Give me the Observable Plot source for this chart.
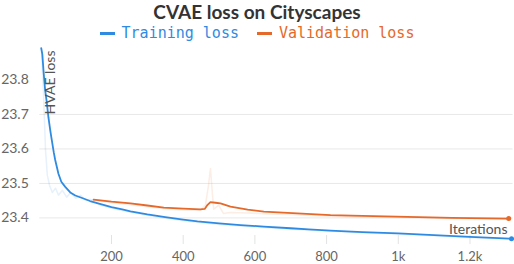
<!DOCTYPE html>
<html>
<head>
<meta charset="utf-8">
<script src="https://cdn.jsdelivr.net/npm/d3@7"></script>
<script src="https://cdn.jsdelivr.net/npm/@observablehq/plot@0.6"></script>
<style>
  html, body { margin: 0; padding: 0; background: #fff; }
  #wrap { width: 514px; height: 264px; overflow: hidden; }
  #title { height: 22px; line-height: 20px; text-align: center; font: bold 19px Lato, sans-serif; color: #333; }
  #legend { height: 22px; line-height: 22px; display: flex; justify-content: center; align-items: center;
            font: 15px "DejaVu Sans Mono", monospace; }
  .sw { display: inline-block; width: 15px; height: 3px; margin-right: 7px; }
  .item { display: flex; align-items: center; }
  svg { display: block; }
</style>
</head>
<body>
<div id="wrap">
  <div id="title"></div>
  <div id="legend"></div>
  <div id="chart"></div>
</div>
<script>
const titleText = "CVAE loss on Cityscapes";
const seriesNames = ["Training loss", "Validation loss"];
const seriesColors = ["#2f8be2", "#e5692a"];
const yLabel = "HVAE loss";
const xLabel = "Iterations";

// Training loss (smoothed)
const trainIter = [4, 7, 11, 15, 19.5, 24, 29, 32, 39, 43, 52, 60, 71, 85, 99, 120, 140, 170, 200, 230, 253, 300, 350, 400, 440, 500, 560, 625, 700, 750, 811, 900, 1000, 1100, 1200, 1316];
const trainLoss = [23.892, 23.875, 23.818, 23.77, 23.735, 23.692, 23.655, 23.635, 23.59, 23.568, 23.528, 23.505, 23.49, 23.474, 23.465, 23.457, 23.449, 23.44, 23.431, 23.425, 23.419, 23.41, 23.402, 23.395, 23.39, 23.384, 23.379, 23.375, 23.37, 23.367, 23.363, 23.359, 23.355, 23.35, 23.345, 23.3395];
// Training loss (raw, faint)
const trainRawIter = [5, 10, 16, 21, 27, 35, 44, 52, 63, 75, 86, 100, 114, 127, 141, 169, 225, 309, 400, 500, 600, 700, 800, 900, 1000, 1100, 1200, 1316];
const trainRawLoss = [23.885, 23.769, 23.596, 23.524, 23.495, 23.474, 23.486, 23.466, 23.48, 23.46, 23.474, 23.457, 23.466, 23.451, 23.454, 23.437, 23.422, 23.406, 23.392, 23.381, 23.374, 23.367, 23.362, 23.357, 23.353, 23.348, 23.343, 23.339];

// Validation loss (smoothed)
const valIter = [150, 200, 253, 300, 346, 400, 448, 460, 468, 476, 490, 504, 532, 580, 625, 718, 811, 900, 1025, 1150, 1308];
const valLoss = [23.453, 23.447, 23.442, 23.436, 23.43, 23.427, 23.425, 23.426, 23.438, 23.446, 23.444, 23.442, 23.433, 23.424, 23.418, 23.413, 23.408, 23.406, 23.403, 23.4, 23.398];
// Validation loss (raw, faint)
const valRawIter = [150, 200, 253, 300, 346, 400, 448, 462, 470, 476, 480, 485, 499, 512, 532, 580, 625, 718, 811, 900, 1025, 1150, 1308];
const valRawLoss = [23.452, 23.444, 23.438, 23.432, 23.427, 23.423, 23.422, 23.437, 23.49, 23.543, 23.49, 23.425, 23.437, 23.413, 23.416, 23.414, 23.412, 23.409, 23.405, 23.403, 23.401, 23.398, 23.397];

const yTicks = [23.4, 23.5, 23.6, 23.7, 23.8];
const yGrid = [23.4, 23.5, 23.6, 23.7];
const xTicks = [200, 400, 600, 800, 1000, 1200];
const xTickLabels = ["200", "400", "600", "800", "1k", "1.2k"];

const toRows = (xs, ys) => xs.map((x, i) => ({x, y: ys[i]}));
const train = toRows(trainIter, trainLoss);
const trainRaw = toRows(trainRawIter, trainRawLoss);
const val = toRows(valIter, valLoss);
const valRaw = toRows(valRawIter, valRawLoss);

document.getElementById("title").textContent = titleText;
const legend = document.getElementById("legend");
seriesNames.forEach((name, i) => {
  const item = document.createElement("span");
  item.className = "item";
  if (i > 0) item.style.marginLeft = "18px";
  const sw = document.createElement("span");
  sw.className = "sw";
  sw.style.background = seriesColors[i];
  const t = document.createElement("span");
  t.textContent = name;
  t.style.color = seriesColors[i];
  item.appendChild(sw);
  item.appendChild(t);
  legend.appendChild(item);
});

const chart = Plot.plot({
  width: 514,
  height: 220,
  marginLeft: 39.3,
  marginRight: 1.5,
  marginTop: 1,
  marginBottom: 19,
  x: {domain: [0, 1320]},
  y: {domain: [23.32, 23.9]},
  style: {fontFamily: "Lato, sans-serif", background: "white"},
  marks: [
    Plot.ruleY(yGrid, {stroke: "#e8e8e8", strokeWidth: 1}),
    Plot.ruleX(xTicks, {y1: 23.323, y2: 23.349, stroke: "#e2e2e2"}),
    Plot.axisY(yTicks, {tickSize: 0, tickPadding: 11, fontSize: 14, fill: "#666", tickFormat: d => d.toFixed(1), label: null}),
    Plot.axisX(xTicks, {tickSize: 0, tickPadding: 6.5, fontSize: 13, fill: "#666", tickFormat: d => xTickLabels[xTicks.indexOf(d)], label: null}),
    Plot.line(trainRaw, {x: "x", y: "y", stroke: seriesColors[0], strokeOpacity: 0.12, strokeWidth: 1.5}),
    Plot.line(valRaw, {x: "x", y: "y", stroke: seriesColors[1], strokeOpacity: 0.12, strokeWidth: 1.5}),
    Plot.line(train, {x: "x", y: "y", stroke: seriesColors[0], strokeWidth: 1.8}),
    Plot.line(val, {x: "x", y: "y", stroke: seriesColors[1], strokeWidth: 1.8}),
    Plot.dot([train[train.length - 1]], {x: "x", y: "y", r: 2.5, fill: seriesColors[0]}),
    Plot.dot([val[val.length - 1]], {x: "x", y: "y", r: 2.5, fill: seriesColors[1]}),
    Plot.text([yLabel], {frameAnchor: "top-left", rotate: -90, textAnchor: "end", lineAnchor: "middle", dx: 11, dy: 5, fontSize: 14, fill: "#555"}),
    Plot.text([xLabel], {frameAnchor: "bottom-right", textAnchor: "end", lineAnchor: "middle", dx: -5.5, dy: -16, fontSize: 14, fill: "#555"})
  ]
});
document.getElementById("chart").appendChild(chart);
</script>
</body>
</html>
